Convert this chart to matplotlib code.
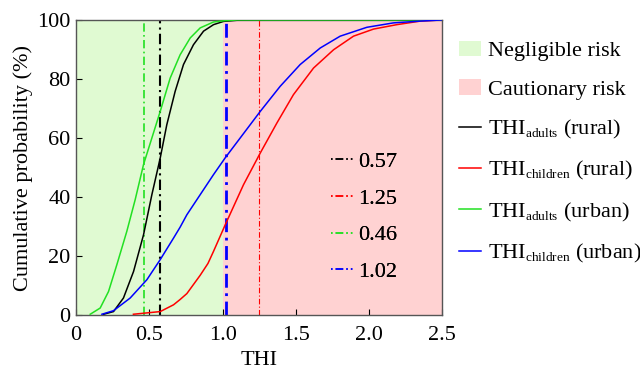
import matplotlib
matplotlib.use("Agg")
import matplotlib.pyplot as plt
from matplotlib.patches import Patch
from matplotlib.lines import Line2D
try:
    import matplotlib._mathtext as _mt
    _mt.SHRINK_FACTOR = 0.6
except Exception:
    pass

plt.rcParams['font.family'] = ['Liberation Serif', 'DejaVu Serif']
plt.rcParams['mathtext.fontset'] = 'custom'
plt.rcParams['mathtext.rm'] = 'Liberation Serif'
plt.rcParams['mathtext.it'] = 'Liberation Serif:italic'
plt.rcParams['mathtext.bf'] = 'Liberation Serif:bold'

# Data
adults_rural_x = [0.187, 0.255, 0.323, 0.392, 0.46, 0.517, 0.574, 0.619, 0.676, 0.733, 0.801, 0.87, 0.938, 1.006, 1.1, 1.3, 2.5]
adults_rural_y = [0.3, 1.2, 5.8, 14.8, 27.2, 40.8, 53.2, 64.5, 75.8, 84.9, 91.6, 96.2, 98.4, 99.5, 99.9, 100, 100]

children_rural_x = [0.391, 0.574, 0.665, 0.71, 0.756, 0.847, 0.9, 0.938, 1.018, 1.143, 1.257, 1.371, 1.484, 1.621, 1.758, 1.894, 2.031, 2.19, 2.35, 2.5]
children_rural_y = [0.3, 1.2, 3.5, 5.3, 7.3, 13.5, 17.5, 21.6, 30.6, 44.2, 54.9, 65.1, 74.7, 83.7, 89.9, 94.5, 96.9, 98.4, 99.6, 100]

adults_urban_x = [0.096, 0.164, 0.221, 0.278, 0.346, 0.403, 0.46, 0.517, 0.574, 0.642, 0.71, 0.779, 0.847, 0.938, 1.006, 1.1, 2.5]
adults_urban_y = [0.3, 2.4, 8.0, 17.1, 28.4, 39.1, 51.0, 60.0, 69.0, 80.3, 88.2, 93.9, 97.3, 99.3, 99.7, 100, 100]

children_urban_x = [0.176, 0.255, 0.369, 0.483, 0.574, 0.665, 0.71, 0.756, 0.847, 0.938, 1.018, 1.257, 1.393, 1.53, 1.667, 1.803, 1.985, 2.167, 2.35, 2.5]
children_urban_y = [0.3, 1.5, 5.8, 12.0, 18.8, 26.1, 29.8, 34.0, 40.8, 47.6, 53.3, 69.0, 77.5, 84.9, 90.5, 94.5, 97.5, 99.0, 99.6, 100]

series_labels = [r'THI$_{\mathrm{adults}}$ (rural)', r'THI$_{\mathrm{children}}$ (rural)',
                 r'THI$_{\mathrm{adults}}$ (urban)', r'THI$_{\mathrm{children}}$ (urban)']
series_colors = ['black', '#ff0000', '#22e022', '#0000ff']

medians = [0.57, 1.25, 0.46, 1.02]
median_labels = ['0.57', '1.25', '0.46', '1.02']
median_widths = [1.5, 0.8, 1.2, 2.0]

zones = [(0.0, 1.0, '#e0fad2', 'Negligible risk'), (1.0, 2.5, '#ffd2d2', 'Cautionary risk')]

fig = plt.figure(figsize=(6.4, 3.69), dpi=100)
ax = fig.add_axes([0.119, 0.146, 0.572, 0.8])

for x0, x1, c, lab in zones:
    ax.axvspan(x0, x1, color=c, lw=0, zorder=0)

xs = [adults_rural_x, children_rural_x, adults_urban_x, children_urban_x]
ys = [adults_rural_y, children_rural_y, adults_urban_y, children_urban_y]
line_handles = []
for x, y, c, lab in zip(xs, ys, series_colors, series_labels):
    h, = ax.plot(x, y, color=c, lw=1.1, label=lab, zorder=3, solid_joinstyle='round')
    line_handles.append(h)

med_handles = []
for m, c, w, lab in zip(medians, series_colors, median_widths, median_labels):
    ax.axvline(m, color=c, lw=w, ls=(0, (5, 2, 1, 2)), zorder=2)
    med_handles.append(Line2D([0], [0], color=c, lw=1.1, ls=(0, (1, 2, 5, 2, 1, 2))))

ax.set_xlim(0, 2.5)
ax.set_ylim(0, 100)
ax.set_xticks([0, 0.5, 1.0, 1.5, 2.0, 2.5])
ax.set_xticklabels(['0', '0.5', '1.0', '1.5', '2.0', '2.5'])
ax.set_yticks([0, 20, 40, 60, 80, 100])
ax.tick_params(axis='both', direction='in', length=4, labelsize=16, top=False, right=False)
ax.tick_params(axis='x', pad=8)
ax.tick_params(axis='y', pad=4)
for s in ax.spines.values():
    s.set_color('#555555')
    s.set_linewidth(1.0)
ax.set_xlabel('THI', fontsize=16, labelpad=4)
ax.set_ylabel('Cumulative probability (%)', fontsize=16, labelpad=3)

leg2 = ax.legend(med_handles, median_labels, loc='upper left', bbox_to_anchor=(0.695, 0.555),
                 frameon=False, fontsize=16, handlelength=1.0, handletextpad=0.25,
                 labelspacing=0.73, borderaxespad=0, borderpad=0)
ax.add_artist(leg2)

zone_handles = [Patch(color=c, lw=0) for _, _, c, _ in zones]
zone_labels = [z[3] for z in zones]
fig.legend(zone_handles + line_handles, zone_labels + series_labels,
           loc='upper left', bbox_to_anchor=(0.717, 0.89), frameon=False,
           fontsize=16, handlelength=1.0, handletextpad=0.3, labelspacing=0.82,
           borderaxespad=0, borderpad=0)

fig.savefig('out.png', dpi=100)
